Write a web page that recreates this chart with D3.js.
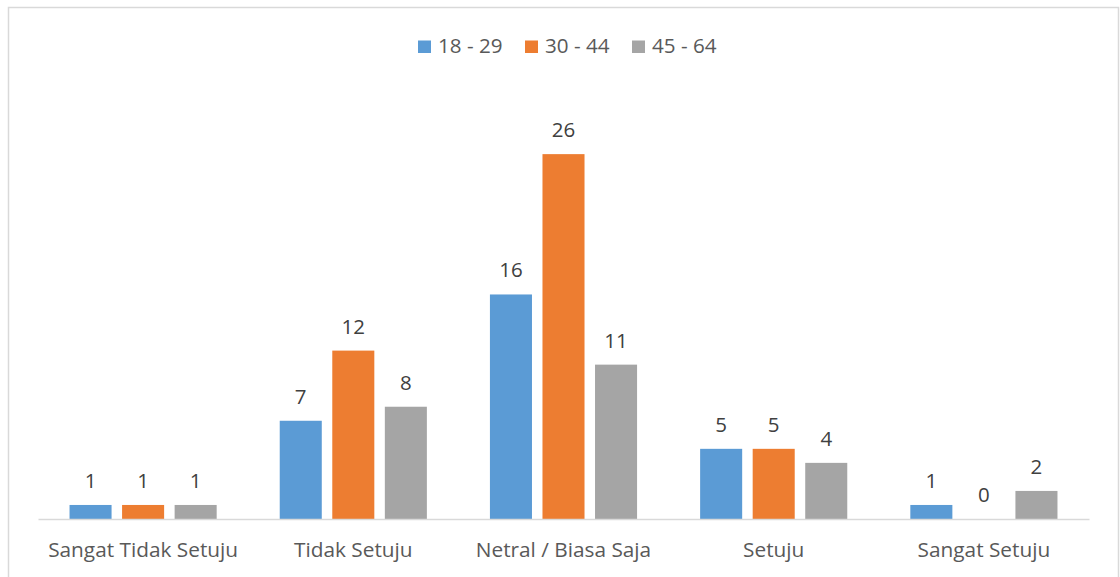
<!DOCTYPE html>
<html>
<head>
<meta charset="utf-8">
<script src="https://cdn.jsdelivr.net/npm/d3@7"></script>
<style>
  body { margin: 0; background: #fff; }
  svg { display: block; font-family: "Open Sans", "Liberation Sans", sans-serif; }
</style>
</head>
<body>
<svg class="chart"></svg>
<script>
const categories = ["Sangat Tidak Setuju", "Tidak Setuju", "Netral / Biasa Saja", "Setuju", "Sangat Setuju"];
const seriesNames = ["18 - 29", "30 - 44", "45 - 64"];
const age18_29 = [1, 7, 16, 5, 1];
const age30_44 = [1, 12, 26, 5, 0];
const age45_64 = [1, 8, 11, 4, 2];
const colors = ["#5b9bd5", "#ed7d31", "#a5a5a5"];

const W = 1120, H = 577;
const series = [age18_29, age30_44, age45_64];

const svg = d3.select(".chart").attr("width", W).attr("height", H);

// chart border
svg.append("rect")
   .attr("x", 8.5).attr("y", 7.5)
   .attr("width", 1110).attr("height", 580)
   .style("fill", "none")
   .style("stroke", "#d9d9d9")
   .style("stroke-width", 1.5);

let x0 = d3.scaleBand()
           .domain(categories)
           .range([38, 1089])
           .padding(0);

let x1 = d3.scaleBand()
           .domain(d3.range(series.length))
           .range([0, x0.bandwidth()])
           .paddingInner(0.2)
           .paddingOuter(0.6);

let y = d3.scaleLinear()
          .domain([0, 30])
          .range([519, 98]);

// bars + value labels
categories.forEach((c, i) => {
  let g = svg.append("g").attr("transform", "translate(" + x0(c) + ",0)");
  series.forEach((s, j) => {
    g.append("rect")
     .attr("x", x1(j))
     .attr("y", y(s[i]))
     .attr("width", x1.bandwidth())
     .attr("height", y(0) - y(s[i]))
     .style("fill", colors[j]);
    g.append("text")
     .attr("x", x1(j) + x1.bandwidth() / 2)
     .attr("y", y(s[i]) - 17)
     .attr("text-anchor", "middle")
     .attr("fill", "#404040")
     .style("font-size", "20.5px")
     .text(s[i]);
  });
});

// x axis
let xAxis = svg.append("g")
   .attr("transform", "translate(0," + y(0) + ")")
   .call(d3.axisBottom(x0).tickSize(0));
xAxis.select(".domain").attr("stroke", "#d9d9d9").attr("stroke-width", 1.5);
xAxis.selectAll("text")
     .attr("y", 38)
     .attr("dy", 0)
     .attr("fill", "#595959")
     .style("font-size", "20.8px")
     .style("font-family", "'Open Sans', 'Liberation Sans', sans-serif");

// legend
let legend = svg.append("g");
const legendX = [418, 525, 632];
seriesNames.forEach((n, j) => {
  legend.append("rect")
        .attr("x", legendX[j]).attr("y", 40.5)
        .attr("width", 13).attr("height", 12.5)
        .style("fill", colors[j]);
  legend.append("text")
        .attr("x", legendX[j] + 20).attr("y", 53)
        .attr("fill", "#595959")
        .style("font-size", "20.6px")
        .text(n);
});
</script>
</body>
</html>
